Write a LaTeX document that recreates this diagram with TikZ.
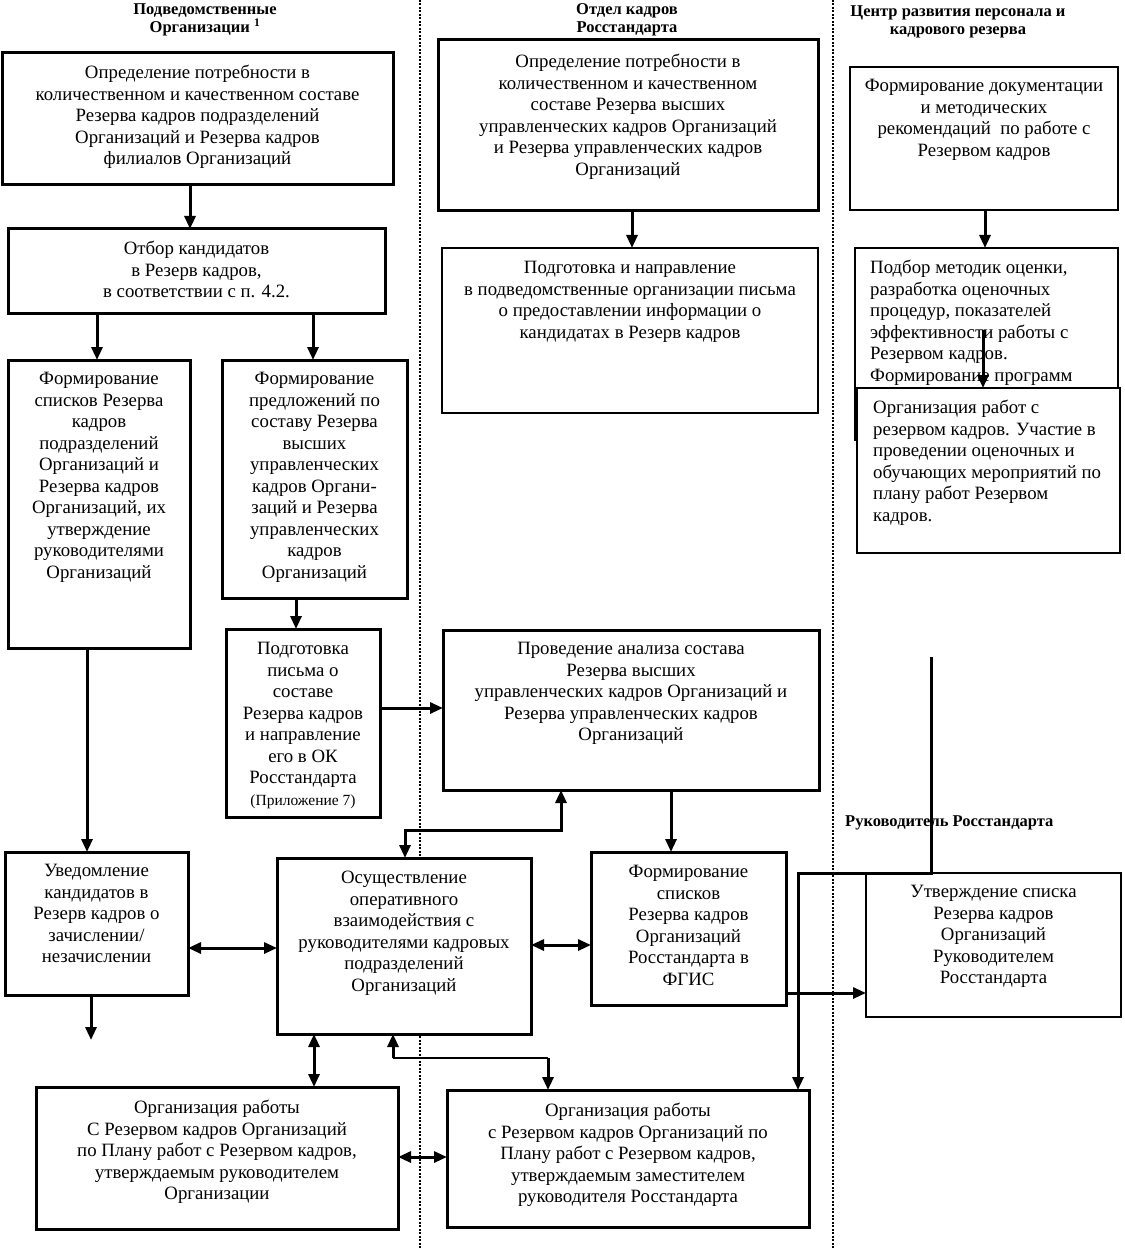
\documentclass[tikz,border=0pt]{standalone}
\usepackage{fontspec}
\setmainfont{Liberation Serif}
\usetikzlibrary{arrows.meta,calc}
\newcommand\mkbox[6][box]{\node[#1, minimum width={(#4)-(#2)}, minimum height={(#5)-(#3)}, anchor=north west] (#6) at (#2,#3) {};}
\begin{document}
\begin{tikzpicture}[x=1pt,y=-1pt,
 box/.style={draw, line width=3pt, fill=white, inner sep=0pt, outer sep=0pt},
 tbox/.style={box, line width=2pt},
 txt/.style={font=\fontsize{18.8}{21.5}\selectfont, align=center, inner sep=0pt},
 ltxt/.style={txt, align=left},
 head/.style={font=\bfseries\fontsize{16.5}{18}\selectfont, align=center, inner sep=0pt},
 >={Triangle[length=13pt,width=11pt]},
 arr/.style={line width=3pt, ->},
 darr/.style={line width=3pt, <->},
 thinline/.style={line width=1.3pt},
 sep/.style={line width=1.2pt, dash pattern=on 2pt off 1.5pt}]
\fill[white] (0,0) rectangle (1124,1249);
\useasboundingbox (0,0) rectangle (1124,1249);
% separators
\draw[sep] (420,0) -- (420,1249);
\draw[sep] (833,0) -- (833,1249);
% headers
\node[head] (h1) at (205,20) {Подведомственные\\Организации \textsuperscript{1}};
\node[head] (h2) at (627,20) {Отдел кадров\\Росстандарта};
\node[head] (h3) at (958,22) {Центр развития персонала и\\кадрового резерва};
\node[head, anchor=west] (h4) at (845,823) {Руководитель Росстандарта};
% boxes
\mkbox{2}{53}{393}{185}{b1}
\node[txt, anchor=north] (t1) at ([yshift=-12pt]b1.north) {Определение потребности в\\количественном и качественном составе\\Резерва кадров подразделений\\Организаций и Резерва кадров\\филиалов Организаций};
\mkbox{438}{40}{818}{211}{b2}
\node[txt, anchor=north] (t2) at ([yshift=-14pt]b2.north) {Определение потребности в\\количественном и качественном\\составе Резерва высших\\управленческих кадров Организаций\\и Резерва управленческих кадров\\Организаций};
\mkbox[tbox]{850}{67}{1118}{210}{b3}
\node[txt, anchor=north] (t3) at ([yshift=-12pt]b3.north) {Формирование документации\\и методических\\рекомендаций\ \ по работе с\\Резервом кадров};
\mkbox{8}{229}{385}{313}{b4}
\node[txt, anchor=north] (t4) at ([yshift=-12pt]b4.north) {Отбор кандидатов\\в Резерв кадров,\\в соответствии с п. 4.2.};
\mkbox[tbox]{442}{248}{818}{413}{b5}
\node[txt, anchor=north] (t5) at ([yshift=-13pt]b5.north) {Подготовка и направление\\в подведомственные организации письма\\о предоставлении информации о\\кандидатах в Резерв кадров};
\mkbox[tbox]{855}{248}{1118}{440}{b6}
\node[ltxt, anchor=north west] (t6) at (870,260) {Подбор методик оценки,\\разработка оценочных\\процедур, показателей\\эффективности работы с\\Резервом кадров.\\Формирование программ};
\coordinate (c6) at (983,330);
\draw[arr] (985,0 |- b3.south) -- (985,0 |- b6.north);
\draw[arr] (c6) -- (983,388);
\mkbox[tbox]{857}{388}{1120}{553}{b7}
\node[ltxt, anchor=north west] (t7) at (873,400) {Организация работ с\\резервом кадров. Участие в\\проведении оценочных и\\обучающих мероприятий по\\плану работ Резервом\\кадров.};
\mkbox{8}{360}{190}{648}{b8}
\node[txt, anchor=north] (t8) at ([yshift=-12pt]b8.north) {Формирование\\списков Резерва\\кадров\\подразделений\\Организаций и\\Резерва кадров\\Организаций, их\\утверждение\\руководителями\\Организаций};
\mkbox{222}{360}{407}{598}{b9}
\node[txt, anchor=north] (t9) at ([yshift=-12pt]b9.north) {Формирование\\предложений по\\составу Резерва\\высших\\управленческих\\кадров Органи-\\заций и Резерва\\управленческих\\кадров\\Организаций};
\mkbox{226}{629}{380}{817}{b10}
\node[txt, anchor=north] (t10) at ([yshift=-13pt]b10.north) {Подготовка\\письма о\\составе\\Резерва кадров\\и направление\\его в ОК\\Росстандарта\\{\fontsize{15.5}{21.5}\selectfont (Приложение 7)}};
\mkbox{443}{630}{819}{790}{b11}
\node[txt, anchor=north] (t11) at ([yshift=-12pt]b11.north) {Проведение анализа состава\\Резерва высших\\управленческих кадров Организаций и\\Резерва управленческих кадров\\Организаций};
\mkbox{5}{852}{188}{995}{b12}
\node[txt, anchor=north] (t12) at ([yshift=-12pt]b12.north) {Уведомление\\кандидатов в\\Резерв кадров о\\зачислении/\\незачислении};
\mkbox{277}{858}{531}{1034}{b13}
\node[txt, anchor=north] (t13) at ([yshift=-13pt]b13.north) {Осуществление\\оперативного\\взаимодействия с\\руководителями кадровых\\подразделений\\Организаций};
\mkbox{591}{852}{786}{1005}{b14}
\node[txt, anchor=north] (t14) at ([yshift=-13pt]b14.north) {Формирование\\списков\\Резерва кадров\\Организаций\\Росстандарта в\\ФГИС};
\mkbox[box, line width=2.5pt]{866}{873}{1121}{1017}{b15}
\node[txt, anchor=north] (t15) at ([yshift=-12pt]b15.north) {Утверждение списка\\Резерва кадров\\Организаций\\Руководителем\\Росстандарта};
\mkbox{36}{1087}{398}{1229}{b16}
\node[txt, anchor=north] (t16) at ([yshift=-13pt]b16.north) {Организация работы\\С Резервом кадров Организаций\\по Плану работ с Резервом кадров,\\утверждаемым руководителем\\Организации};
\mkbox{447}{1090}{809}{1227}{b17}
\node[txt, anchor=north] (t17) at ([yshift=-13pt]b17.north) {Организация работы\\с Резервом кадров Организаций по\\Плану работ с Резервом кадров,\\утверждаемым заместителем\\руководителя Росстандарта};
% connectors
\draw[arr] (190,0 |- b1.south) -- (190,0 |- b4.north);
\draw[arr] (632,0 |- b2.south) -- (632,0 |- b5.north);
\draw[arr] (97,0 |- b4.south) -- (97,0 |- b8.north);
\draw[arr] (313,0 |- b4.south) -- (313,0 |- b9.north);
\draw[arr] (296,0 |- b9.south) -- (296,0 |- b10.north);
\draw[arr] (b10.east |- 0,708) -- (b11.west |- 0,708);
\draw[arr] (87,0 |- b8.south) -- (87,0 |- b12.north);
\draw[arr] (671,0 |- b11.south) -- (671,0 |- b14.north);
\draw[darr] (405,0 |- b13.north) -- (405,830) -- (561,830) -- (561,0 |- b11.south);
\draw[darr] (b12.east |- 0,948) -- (b13.west |- 0,948);
\draw[darr] (b13.east |- 0,945) -- (b14.west |- 0,945);
\coordinate (c12) at (91,1040);
\draw[arr] (91,0 |- b12.south) -- (c12);
\draw[darr] (314,0 |- b13.south) -- (314,0 |- b16.north);
\coordinate (c13a) at (393,1058);
\coordinate (c13b) at (548,1058);
\draw[arr] (c13a) -- (393,0 |- b13.south);
\draw[thinline] (c13a) -- (c13b);
\draw[arr] (c13b) -- (548,0 |- b17.north);
\draw[darr] (b16.east |- 0,1157) -- (b17.west |- 0,1157);
\draw[arr] (b14.east |- 0,993) -- (b15.west |- 0,993);
\coordinate (c15) at (931,657);
\draw[arr] (c15) -- (931,0 |- b15.north) -- (798,0 |- b15.north) -- (798,0 |- b17.north);
\end{tikzpicture}
\end{document}
